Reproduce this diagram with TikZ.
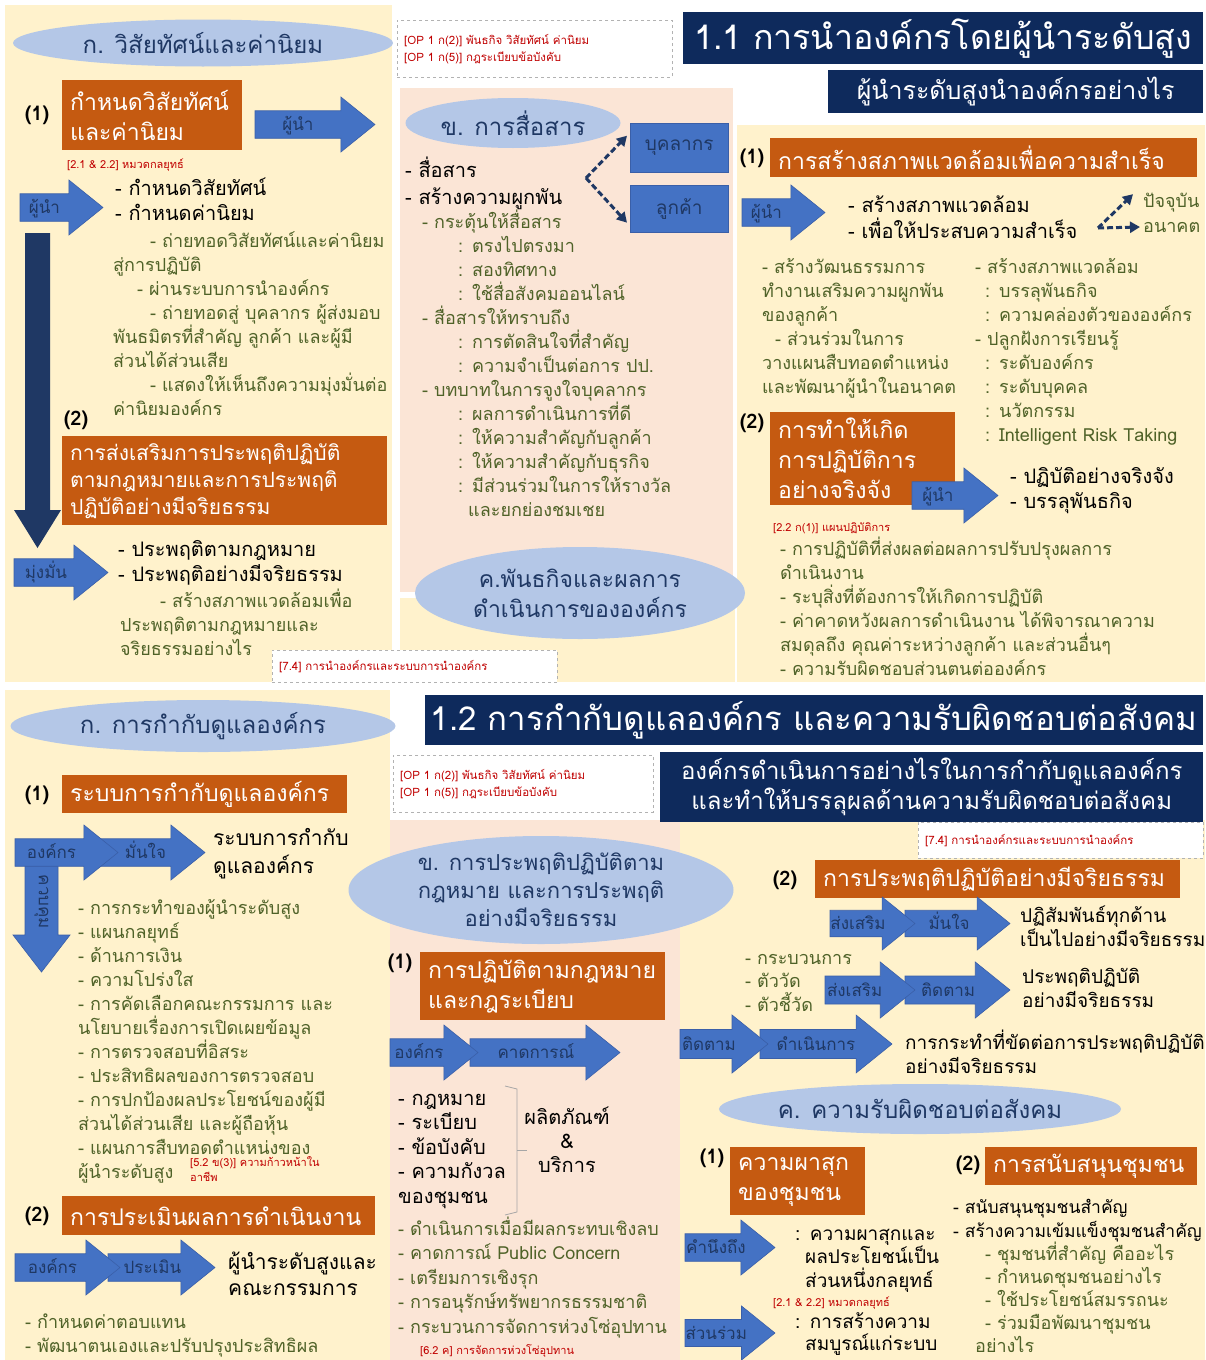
\documentclass[tikz,border=0pt]{standalone}
\usepackage{fontspec}
\setmainfont{Loma}[Script=Thai]
\usepackage{xcolor}
\usepackage{tikz}
\usetikzlibrary{shapes,arrows,arrows.meta,positioning,calc}

\definecolor{creambg}{HTML}{FFF2CC}
\definecolor{pinkbg}{HTML}{FBE5D6}
\definecolor{orangebg}{HTML}{C55A11}
\definecolor{navybg}{HTML}{0E2A5C}
\definecolor{navytxt}{HTML}{1F3864}
\definecolor{arrblue}{HTML}{4472C4}
\definecolor{arrline}{HTML}{3A5FA8}
\definecolor{ovalblue}{HTML}{B4C7E7}
\definecolor{olivetxt}{HTML}{4F6228}
\definecolor{refred}{HTML}{C00000}

\newcommand{\barrow}[7]{%
  \pgfmathsetmacro{\bym}{(#4+#5)/2}%
  \pgfmathsetmacro{\bhq}{(#5-#4)/4}%
  \pgfmathsetmacro{\bxh}{#3-0.62*(#5-#4)}%
  \draw[arrowfill] (#2,\bym-\bhq) -- (\bxh,\bym-\bhq) -- (\bxh,#4) -- (#3,\bym)
    -- (\bxh,#5) -- (\bxh,\bym+\bhq) -- (#2,\bym+\bhq) -- cycle;
  \node[arrowtxt] (#1) at ({(#2+\bxh)/2+#6},\bym+6) {#7};
}

\begin{document}
\begin{tikzpicture}[
    x=1pt, y=-1pt,
    every node/.style={inner sep=0pt},
    maintxt/.style={anchor=base west, text width=480pt, align=left, text=black, font=\fontsize{20}{25}\selectfont},
    subtxt/.style={anchor=base west, text width=480pt, align=left, text=olivetxt, font=\fontsize{18}{24}\selectfont},
    redtxt/.style={anchor=base west, text width=300pt, align=left, text=refred, font=\fontsize{11}{15}\selectfont},
    numlab/.style={font=\bfseries\fontsize{20}{22}\selectfont},
    oval/.style={ellipse, fill=ovalblue, text=navytxt, align=center, font=\fontsize{24}{29}\selectfont},
    orangebox/.style={rectangle, fill=orangebg, text=white, anchor=north west, align=left, inner xsep=8pt, font=\fontsize{23}{30}\selectfont},
    titlebox/.style={rectangle, fill=navybg, text=white, anchor=north west, align=center},
    refbox/.style={rectangle, draw=gray!60, dashed, fill=white, anchor=north west, text=refred, align=left, inner xsep=7pt, font=\fontsize{11.5}{17}\selectfont},
    bluebox/.style={rectangle, fill=arrblue, draw=arrline, text=navytxt, anchor=north west, font=\fontsize{19}{24}\selectfont},
    arrowfill/.style={fill=arrblue, draw=arrline, line width=0.6pt},
    arrowtxt/.style={anchor=base, text=navytxt, font=\fontsize{17}{20}\selectfont},
    navyarrow/.style={fill=navytxt},
    dasharr/.style={draw=navytxt, line width=3pt, dash pattern=on 6pt off 3pt, -{Triangle[length=10pt,width=11pt]}},
    bracket/.style={draw=gray!70, line width=0.8pt}
]
\useasboundingbox (0,0) rectangle (1205,1360);
\fill[white] (0,0) rectangle (1205,1360);
\fill[creambg] (5,5) rectangle (392,682);
\fill[pinkbg] (400,88) rectangle (733,592);
\fill[creambg] (400,598) rectangle (735,682);
\fill[creambg] (737,125) rectangle (1205,682);
\fill[creambg] (5,690) rectangle (390,1360);
\fill[pinkbg] (390,820) rectangle (680,1360);
\fill[creambg] (680,820) rectangle (1205,1360);

\node[oval, minimum width=380pt, minimum height=47pt] (ovA) at (203,43) {ก. วิสัยทัศน์และค่านิยม};
\node[numlab] (n1a) at (37,115) {(1)};
\node[orangebox, text width=164pt, minimum height=70pt] (obA) at (62,80) {กำหนดวิสัยทัศน์\\และค่านิยม};
\barrow{arA}{255}{375}{97}{152}{0}{ผู้นำ}
\node[redtxt] (rfA) at (67,168) {[2.1 \& 2.2] หมวดกลยุทธ์};
\barrow{arB}{20}{103}{180}{235}{0}{ผู้นำ}
\node[maintxt] (txA) at (115,195) {- กำหนดวิสัยทัศน์\\- กำหนดค่านิยม};
\node[subtxt] (txB) at (113,247) {\hspace*{37pt}- ถ่ายทอดวิสัยทัศน์และค่านิยม\\สู่การปฏิบัติ\\\hspace*{24pt}- ผ่านระบบการนำองค์กร\\\hspace*{37pt}- ถ่ายทอดสู่ บุคลากร ผู้ส่งมอบ\\พันธมิตรที่สำคัญ ลูกค้า และผู้มี\\ส่วนได้ส่วนเสีย\\\hspace*{37pt}- แสดงให้เห็นถึงความมุ่งมั่นต่อ\\ค่านิยมองค์กร};
\fill[navyarrow] (25,233) -- (50,233) -- (50,510) -- (61,510) -- (37.5,548) -- (14,510) -- (25,510) -- cycle;
\node[numlab] (n2a) at (76,420) {(2)};
\node[orangebox, text width=309pt, minimum height=89pt, font=\fontsize{21}{27}\selectfont] (obB) at (62,436) {การส่งเสริมการประพฤติปฏิบัติ\\ตามกฎหมายและการประพฤติ\\ปฏิบัติอย่างมีจริยธรรม};
\barrow{arC}{14}{108}{545}{600}{2}{มุ่งมั่น}
\node[maintxt] (txC) at (118,556) {- ประพฤติตามกฎหมาย\\- ประพฤติอย่างมีจริยธรรม};
\node[subtxt] (txD) at (120,607) {\hspace*{40pt}- สร้างสภาพแวดล้อมเพื่อ\\ประพฤติตามกฎหมายและ\\จริยธรรมอย่างไร};
\node[refbox, minimum width=285pt, minimum height=32pt, text width=271pt] (rfB) at (272,650) {[7.4] การนำองค์กรและระบบการนำองค์กร};

\node[refbox, minimum width=275pt, minimum height=57pt, text width=261pt] (rfC) at (397,20) {[OP 1 ก(2)] พันธกิจ วิสัยทัศน์ ค่านิยม\\{}[OP 1 ก(5)] กฎระเบียบข้อบังคับ};
\node[oval, minimum width=215pt, minimum height=50pt] (ovB) at (513,123) {ข. การสื่อสาร};
\node[bluebox, minimum width=98pt, minimum height=49pt] (bk) at (630,123) {บุคลากร};
\node[bluebox, minimum width=98pt, minimum height=47pt] (lk) at (630,185) {ลูกค้า};
\coordinate (cvA) at (586,178);
\draw[dasharr] (cvA) -- ($(bk.west)+(-3,-12)$);
\draw[dasharr] (cvA) -- ($(lk.west)+(-3,14)$);
\node[maintxt] (txE) at (405,177) {- สื่อสาร\\[2pt]- สร้างความผูกพัน};
\node[subtxt] (txF) at (405,228) {\hspace*{17pt}- กระตุ้นให้สื่อสาร\\\hspace*{53pt}: ตรงไปตรงมา\\\hspace*{53pt}: สองทิศทาง\\\hspace*{53pt}: ใช้สื่อสังคมออนไลน์\\\hspace*{17pt}- สื่อสารให้ทราบถึง\\\hspace*{53pt}: การตัดสินใจที่สำคัญ\\\hspace*{53pt}: ความจำเป็นต่อการ ปป.\\\hspace*{17pt}- บทบาทในการจูงใจบุคลากร\\\hspace*{53pt}: ผลการดำเนินการที่ดี\\\hspace*{53pt}: ให้ความสำคัญกับลูกค้า\\\hspace*{53pt}: ให้ความสำคัญกับธุรกิจ\\\hspace*{53pt}: มีส่วนร่วมในการให้รางวัล\\\hspace*{63pt}และยกย่องชมเชย};
\node[oval, minimum width=330pt, minimum height=92pt, font=\fontsize{23}{30}\selectfont] (ovC) at (580,593) {ค.พันธกิจและผลการ\\ดำเนินการขององค์กร};

\node[titlebox, minimum width=520pt, minimum height=52pt, font=\fontsize{34}{40}\selectfont] (tiA) at (683,12) {1.1 การนำองค์กรโดยผู้นำระดับสูง};
\node[titlebox, minimum width=375pt, minimum height=43pt, font=\fontsize{25}{30}\selectfont] (tiB) at (828,70) {ผู้นำระดับสูงนำองค์กรอย่างไร};
\node[numlab] (n1b) at (752,158) {(1)};
\node[orangebox, text width=411pt, minimum height=39pt] (obC) at (770,138) {การสร้างสภาพแวดล้อมเพื่อความสำเร็จ};
\barrow{arD}{742}{825}{185}{240}{0}{ผู้นำ}
\node[maintxt] (txG) at (848,212) {- สร้างสภาพแวดล้อม\\[1pt]- เพื่อให้ประสบความสำเร็จ};
\node[subtxt, text width=70pt] (nowA) at (1143,207) {ปัจจุบัน};
\node[subtxt, text width=70pt] (futA) at (1143,232) {อนาคต};
\coordinate (cvB) at (1098,228);
\draw[dasharr] (cvB) -- ($(nowA.west)+(-10,-8)$);
\draw[dasharr] (cvB) -- ($(futA.west)+(-3,0)$);
\node[subtxt] (txH) at (762,273) {- สร้างวัฒนธรรมการ\\ทำงานเสริมความผูกพัน\\ของลูกค้า\\\hspace*{13pt}- ส่วนร่วมในการ\\วางแผนสืบทอดตำแหน่ง\\และพัฒนาผู้นำในอนาคต};
\node[subtxt] (txI) at (975,273) {- สร้างสภาพแวดล้อม\\\hspace*{10pt}: บรรลุพันธกิจ\\\hspace*{10pt}: ความคล่องตัวขององค์กร\\- ปลูกฝังการเรียนรู้\\\hspace*{10pt}: ระดับองค์กร\\\hspace*{10pt}: ระดับบุคคล\\\hspace*{10pt}: นวัตกรรม\\\hspace*{10pt}: Intelligent Risk Taking};
\node[numlab] (n2b) at (752,423) {(2)};
\node[orangebox, text width=169pt, minimum height=93pt] (obD) at (770,412) {การทำให้เกิด\\การปฏิบัติการ\\อย่างจริงจัง};
\barrow{arE}{912}{998}{468}{523}{0}{ผู้นำ}
\node[maintxt] (txJ) at (1010,483) {- ปฏิบัติอย่างจริงจัง\\- บรรลุพันธกิจ};
\node[redtxt] (rfD) at (773,531) {[2.2 ก(1)] แผนปฏิบัติการ};
\node[subtxt] (txK) at (780,555) {- การปฏิบัติที่ส่งผลต่อผลการปรับปรุงผลการ\\ดำเนินงาน\\- ระบุสิ่งที่ต้องการให้เกิดการปฏิบัติ\\- ค่าคาดหวังผลการดำเนินงาน ได้พิจารณาความ\\สมดุลถึง คุณค่าระหว่างลูกค้า และส่วนอื่นๆ\\- ความรับผิดชอบส่วนตนต่อองค์กร};

\node[oval, minimum width=385pt, minimum height=52pt] (ovD) at (203,726) {ก. การกำกับดูแลองค์กร};
\node[numlab] (n1c) at (37,795) {(1)};
\node[orangebox, text width=269pt, minimum height=38pt] (obE) at (62,775) {ระบบการกำกับดูแลองค์กร};
\draw[arrowfill] (25,866) -- (58,866) -- (58,935) -- (70,935) -- (41.5,972) -- (13,935) -- (25,935) -- cycle;
\node[arrowtxt, anchor=center, rotate=-90] (kk) at (41.5,902) {ควบคุม};
\barrow{arG}{100}{205}{825}{880}{10}{มั่นใจ}
\barrow{arF}{15}{118}{825}{880}{2}{องค์กร}
\node[maintxt, font=\fontsize{21}{28}\selectfont] (txL) at (213,845) {ระบบการกำกับ\\ดูแลองค์กร};
\node[subtxt] (txM) at (78,914) {- การกระทำของผู้นำระดับสูง\\- แผนกลยุทธ์\\- ด้านการเงิน\\- ความโปร่งใส\\- การคัดเลือกคณะกรรมการ และ\\นโยบายเรื่องการเปิดเผยข้อมูล\\- การตรวจสอบที่อิสระ\\- ประสิทธิผลของการตรวจสอบ\\- การปกป้องผลประโยชน์ของผู้มี\\ส่วนได้ส่วนเสีย และผู้ถือหุ้น\\- แผนการสืบทอดตำแหน่งของ\\ผู้นำระดับสูง};
\node[redtxt] (rfE) at (190,1166) {[5.2 ข(3)] ความก้าวหน้าใน\\อาชีพ};
\node[numlab] (n2c) at (37,1216) {(2)};
\node[orangebox, text width=297pt, minimum height=39pt] (obF) at (62,1196) {การประเมินผลการดำเนินงาน};
\barrow{arI}{108}{215}{1240}{1295}{8}{ประเมิน}
\barrow{arH}{15}{120}{1240}{1295}{2}{องค์กร}
\node[maintxt, font=\fontsize{21}{26}\selectfont] (txN) at (228,1269) {ผู้นำระดับสูงและ\\คณะกรรมการ};
\node[subtxt] (txO) at (25,1328) {- กำหนดค่าตอบแทน\\- พัฒนาตนเองและปรับปรุงประสิทธิผล};

\node[titlebox, minimum width=778pt, minimum height=50pt, font=\fontsize{33}{40}\selectfont] (tiC) at (425,695) {1.2 การกำกับดูแลองค์กร และความรับผิดชอบต่อสังคม};
\node[refbox, minimum width=260pt, minimum height=57pt, text width=246pt] (rfF) at (393,755) {[OP 1 ก(2)] พันธกิจ วิสัยทัศน์ ค่านิยม\\{}[OP 1 ก(5)] กฎระเบียบข้อบังคับ};
\node[titlebox, minimum width=543pt, minimum height=70pt, font=\fontsize{24}{30}\selectfont] (tiD) at (660,752) {องค์กรดำเนินการอย่างไรในการกำกับดูแลองค์กร\\และทำให้บรรลุผลด้านความรับผิดชอบต่อสังคม};
\node[oval, minimum width=385pt, minimum height=108pt, font=\fontsize{22}{28}\selectfont] (ovE) at (541,890) {ข. การประพฤติปฏิบัติตาม\\กฎหมาย และการประพฤติ\\อย่างมีจริยธรรม};
\node[numlab] (n1d) at (400,963) {(1)};
\node[orangebox, text width=229pt, minimum height=68pt] (obG) at (420,952) {การปฏิบัติตามกฎหมาย\\และกฎระเบียบ};
\barrow{arK}{470}{620}{1025}{1080}{8}{คาดการณ์}
\barrow{arJ}{390}{478}{1025}{1080}{2}{องค์กร}
\node[maintxt, font=\fontsize{20}{24.5}\selectfont] (txP) at (398,1105) {- กฎหมาย\\- ระเบียบ\\- ข้อบังคับ\\- ความกังวล\\ของชุมชน};
\draw[bracket] (505,1086) -- (517,1089) -- (517,1212) -- (505,1215);
\draw[bracket] (517,1150) -- (527,1150);
\node[maintxt, text width=110pt, align=center, anchor=base, font=\fontsize{20}{24}\selectfont] (txQ) at (567,1124) {ผลิตภัณฑ์\\\&\\บริการ};
\node[subtxt, font=\fontsize{18}{24.5}\selectfont] (txR) at (398,1235) {- ดำเนินการเมื่อมีผลกระทบเชิงลบ\\- คาดการณ์ Public Concern\\- เตรียมการเชิงรุก\\- การอนุรักษ์ทรัพยากรธรรมชาติ\\- กระบวนการจัดการห่วงโซ่อุปทาน};
\node[redtxt] (rfG) at (420,1354) {[6.2 ค] การจัดการห่วงโซ่อุปทาน};

\node[refbox, minimum width=285pt, minimum height=36pt, text width=271pt] (rfH) at (918,822) {[7.4] การนำองค์กรและระบบการนำองค์กร};
\node[numlab] (n2d) at (785,880) {(2)};
\node[orangebox, text width=349pt, minimum height=38pt] (obH) at (815,860) {การประพฤติปฏิบัติอย่างมีจริยธรรม};
\barrow{arM}{905}{1010}{897}{950}{8}{มั่นใจ}
\barrow{arL}{830}{915}{897}{950}{2}{ส่งเสริม}
\node[maintxt, font=\fontsize{19}{24}\selectfont] (txS) at (1020,922) {ปฏิสัมพันธ์ทุกด้าน\\เป็นไปอย่างมีจริยธรรม};
\node[subtxt, font=\fontsize{18}{23.5}\selectfont] (txT) at (745,964) {- กระบวนการ\\- ตัววัด\\- ตัวชี้วัด};
\barrow{arO}{905}{1010}{962}{1018}{8}{ติดตาม}
\barrow{arN}{825}{915}{962}{1018}{2}{ส่งเสริม}
\node[maintxt, font=\fontsize{19}{24}\selectfont] (txU) at (1022,983) {ประพฤติปฏิบัติ\\อย่างมีจริยธรรม};
\barrow{arQ}{760}{892}{1015}{1073}{8}{ดำเนินการ}
\barrow{arP}{680}{768}{1015}{1073}{3}{ติดตาม}
\node[maintxt, font=\fontsize{19}{24}\selectfont] (txV) at (905,1049) {การกระทำที่ขัดต่อการประพฤติปฏิบัติ\\อย่างมีจริยธรรม};
\node[oval, minimum width=385pt, minimum height=50pt] (ovF) at (920,1109) {ค. ความรับผิดชอบต่อสังคม};
\node[numlab] (n1e) at (712,1158) {(1)};
\node[orangebox, text width=119pt, minimum height=68pt] (obI) at (730,1147) {ความผาสุก\\ของชุมชน};
\barrow{arR}{685}{775}{1220}{1275}{3}{คำนึงถึง}
\node[maintxt, font=\fontsize{19}{23.5}\selectfont] (txW) at (795,1240) {: ความผาสุกและ\\\hspace*{10pt}ผลประโยชน์เป็น\\\hspace*{10pt}ส่วนหนึ่งกลยุทธ์};
\node[redtxt] (rfI) at (773,1306) {[2.1 \& 2.2] หมวดกลยุทธ์};
\barrow{arS}{685}{775}{1306}{1360}{3}{ส่วนร่วม}
\node[maintxt, font=\fontsize{19}{22}\selectfont] (txX) at (795,1328) {: การสร้างความ\\\hspace*{10pt}สมบูรณ์แก่ระบบ};
\node[numlab] (n2e) at (968,1165) {(2)};
\node[orangebox, text width=196pt, minimum height=38pt] (obJ) at (985,1147) {การสนับสนุนชุมชน};
\node[maintxt, font=\fontsize{17.5}{24}\selectfont] (txY) at (953,1213) {- สนับสนุนชุมชนสำคัญ\\- สร้างความเข้มแข็งชุมชนสำคัญ};
\node[subtxt, font=\fontsize{18}{23}\selectfont] (txZ) at (975,1260) {\hspace*{10pt}- ชุมชนที่สำคัญ คืออะไร\\\hspace*{10pt}- กำหนดชุมชนอย่างไร\\\hspace*{10pt}- ใช้ประโยชน์สมรรถนะ\\\hspace*{10pt}- ร่วมมือพัฒนาชุมชน\\อย่างไร};
\end{tikzpicture}
\end{document}
